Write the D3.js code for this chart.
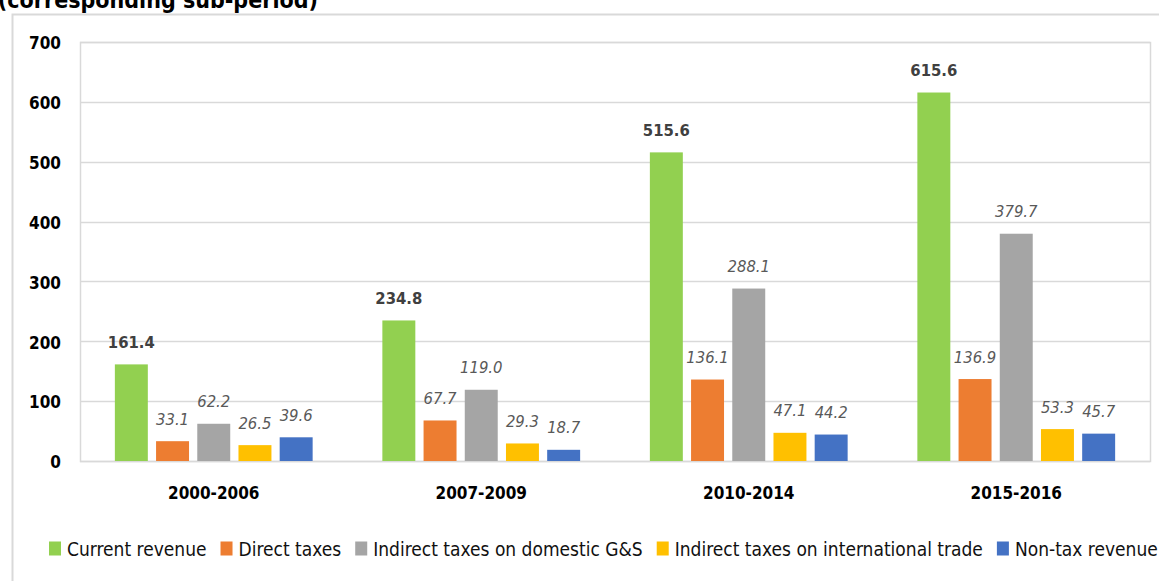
<!DOCTYPE html>
<html>
<head>
<meta charset="utf-8">
<script src="https://cdn.jsdelivr.net/npm/d3@7"></script>
<style>
  html, body { margin: 0; padding: 0; background: #fff; }
  svg { display: block; font-family: "DejaVu Sans Condensed", "DejaVu Sans", sans-serif; font-stretch: condensed; }
</style>
</head>
<body>
<svg id="chart" width="1159" height="581"></svg>
<script>
// ---- data ----
const categories = ["2000-2006", "2007-2009", "2010-2014", "2015-2016"];
const seriesNames = ["Current revenue", "Direct taxes", "Indirect taxes on domestic G&S", "Indirect taxes on international trade", "Non-tax revenue"];
const currentRevenue = [161.4, 234.8, 515.6, 615.6];
const directTaxes = [33.1, 67.7, 136.1, 136.9];
const indirectDomestic = [62.2, 119.0, 288.1, 379.7];
const indirectTrade = [26.5, 29.3, 47.1, 53.3];
const nonTaxRevenue = [39.6, 18.7, 44.2, 45.7];
const yTicks = [0, 100, 200, 300, 400, 500, 600, 700];
const seriesColors = ["#92D050", "#ED7D31", "#A5A5A5", "#FFC000", "#4472C4"];
const titleText = "(corresponding sub-period)";

const seriesValues = [currentRevenue, directTaxes, indirectDomestic, indirectTrade, nonTaxRevenue];

// ---- layout ----
const W = 1159, H = 581;
const plot = { left: 80, right: 1150, top: 42, bottom: 461 };
const svg = d3.select("#chart");

svg.append("rect").attr("x", 0).attr("y", 0).attr("width", W).attr("height", H).attr("fill", "#fff");

// title (clipped at top)
svg.append("text")
  .attr("x", 318).attr("y", 8)
  .attr("text-anchor", "end")
  .attr("font-size", 23).attr("font-weight", "bold").attr("fill", "#000")
  .text(titleText);

// outer chart frame
svg.append("rect")
  .attr("x", 12.5).attr("y", 14.5).attr("width", 1200).attr("height", 600)
  .attr("fill", "none").attr("stroke", "#d9d9d9").attr("stroke-width", 2);

const x = d3.scaleBand().domain(categories).range([plot.left, plot.right]).padding(0);
const xi = d3.scaleBand().domain(d3.range(seriesNames.length)).range([0, x.bandwidth()])
  .paddingInner(0.2).paddingOuter(0.846);
const y = d3.scaleLinear().domain([0, 700]).range([plot.bottom, plot.top]);

// gridlines
svg.append("g").selectAll("line").data(yTicks).join("line")
  .attr("x1", plot.left).attr("x2", plot.right)
  .attr("y1", d => Math.round(y(d)) + 0.5).attr("y2", d => Math.round(y(d)) + 0.5)
  .attr("stroke", "#d9d9d9").attr("stroke-width", 1.5);

// plot area border
svg.append("rect")
  .attr("x", plot.left + 0.5).attr("y", plot.top + 0.5)
  .attr("width", plot.right - plot.left).attr("height", plot.bottom - plot.top)
  .attr("fill", "none").attr("stroke", "#d9d9d9").attr("stroke-width", 1.5);

// y axis
const yAxis = d3.axisLeft(y).tickValues(yTicks).tickSize(0).tickPadding(0).tickFormat(d3.format("d"));
const yg = svg.append("g").attr("transform", `translate(61,0)`).call(yAxis);
yg.select(".domain").remove();
yg.selectAll("text").attr("font-size", 17).attr("font-weight", "bold").attr("fill", "#000")
  .attr("font-family", "DejaVu Sans Condensed, DejaVu Sans, sans-serif").attr("dy", "0.4em");

// x axis
const xAxis = d3.axisBottom(x).tickSize(0).tickPadding(0);
const xg = svg.append("g").attr("transform", `translate(0,${plot.bottom})`).call(xAxis);
xg.select(".domain").remove();
xg.selectAll("text").attr("font-size", 17).attr("font-weight", "bold").attr("fill", "#000")
  .attr("font-family", "DejaVu Sans Condensed, DejaVu Sans, sans-serif")
  .attr("y", 38).attr("dy", 0);

// bars
const barData = [];
categories.forEach((c, ci) => {
  seriesValues.forEach((vals, si) => barData.push({ c, si, v: vals[ci] }));
});

svg.append("g").selectAll("rect").data(barData).join("rect")
  .attr("x", d => x(d.c) + xi(d.si))
  .attr("y", d => y(d.v))
  .attr("width", xi.bandwidth())
  .attr("height", d => y(0) - y(d.v))
  .attr("fill", d => seriesColors[d.si]);

// value labels
const fmt = d3.format(".1f");
svg.append("g").selectAll("text").data(barData).join("text")
  .attr("x", d => x(d.c) + xi(d.si) + xi.bandwidth() / 2)
  .attr("y", d => y(d.v) - 16.5)
  .attr("text-anchor", "middle")
  .attr("font-size", 16.5)
  .attr("font-weight", d => d.si === 0 ? "bold" : "normal")
  .attr("font-style", d => d.si === 0 ? "normal" : "italic")
  .attr("fill", d => d.si === 0 ? "#404040" : "#595959")
  .text(d => fmt(d.v));

// legend
const legend = svg.append("g");
let lx = 49;
seriesNames.forEach((name, i) => {
  legend.append("rect").attr("x", lx).attr("y", 541.5).attr("width", 12).attr("height", 14)
    .attr("fill", seriesColors[i]);
  const t = legend.append("text").attr("x", lx + 18).attr("y", 556)
    .attr("font-size", 19).attr("fill", "#111").text(name);
  lx += 18 + t.node().getComputedTextLength() + 14;
});
</script>
</body>
</html>
